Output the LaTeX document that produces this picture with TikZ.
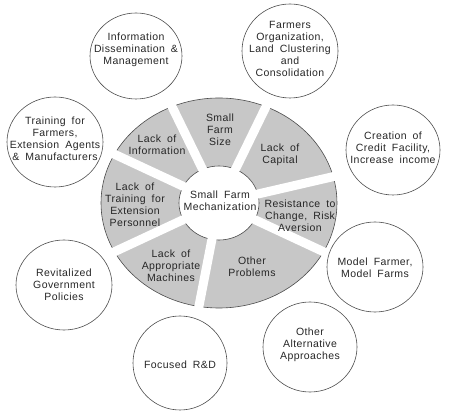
\documentclass[tikz,border=0pt]{standalone}
\usepackage{fontspec}
\setmainfont{Liberation Sans}[LetterSpace=4,WordSpace=1.8]
\usepackage{xcolor}
\usepackage{tikz}
\usetikzlibrary{positioning,calc}

\begin{document}
\begin{tikzpicture}[x=1pt, y=1pt,
  rim/.style={draw=black!70, line width=0.6pt},
  gap/.style={white, line width=9pt},
  txt/.style={align=center, inner sep=0pt, text=black!85, font=\fontsize{10.5}{12}\selectfont}]

\useasboundingbox (0,0) rectangle (450,415);

% Big disc of constraints
\fill[black!22] (219,212) ellipse [x radius=118, y radius=105];
\draw[rim] (219,212) ellipse [x radius=118, y radius=105];
\fill[white] (219,212) ellipse [x radius=40, y radius=37];
\draw[rim] (219,212) ellipse [x radius=40, y radius=37];

% White separators between the sectors
\begin{scope}
  \clip (219,212) ellipse [x radius=121, y radius=108];
  \foreach \a in {116,64,13,-25,-101,205,155}
    \draw[gap] (219,212) -- ++(\a:140);
\end{scope}

% Hub
\node[txt] (hub) at (220,214) {Small Farm\\Mechanization};

% Sector labels
\node[txt] (size) at (220,285) {Small\\Farm\\Size};
\node[txt] (capital) at (280,260) {Lack of\\Capital};
\node[txt] (resist) at (300,199) {Resistance to\\Change, Risk\\Aversion};
\node[txt] (other) at (252,148) {Other\\Problems};
\node[txt] (machines) at (171,149) {Lack of\\Appropriate\\Machines};
\node[txt] (training) at (135,210) {Lack of\\Training for\\Extension\\Personnel};
\node[txt] (info) at (157,270) {Lack of\\Information};

% Outer circles (approaches)
\draw[rim] (136,359) ellipse [x radius=46, y radius=43];
\node[txt] (dissem) at (136,365) {Information\\Dissemination \&\\Management};

\draw[rim] (290,364) ellipse [x radius=48, y radius=47];
\node[txt] (farmorg) at (290,366) {Farmers\\Organization,\\Land Clustering\\and\\Consolidation};

\draw[rim] (55,273) ellipse [x radius=48, y radius=45];
\node[txt] (trainall) at (55,276) {Training for\\Farmers,\\Extension Agents\\\& Manufacturers};

\draw[rim] (393,265) ellipse [x radius=47, y radius=45];
\node[txt] (credit) at (393,267) {Creation of\\Credit Facility,\\Increase income};

\draw[rim] (64,130) ellipse [x radius=48, y radius=45];
\node[txt] (policies) at (64,130) {Revitalized\\Government\\Policies};

\draw[rim] (375,148) ellipse [x radius=48, y radius=45];
\node[txt] (model) at (375,147) {Model Farmer,\\Model Farms};

\draw[rim] (180,52) ellipse [x radius=47, y radius=47];
\node[txt] (rnd) at (180,50) {Focused R\&D};

\draw[rim] (310,68) ellipse [x radius=47, y radius=45];
\node[txt] (altern) at (310,70) {Other\\Alternative\\Approaches};

\end{tikzpicture}
\end{document}
